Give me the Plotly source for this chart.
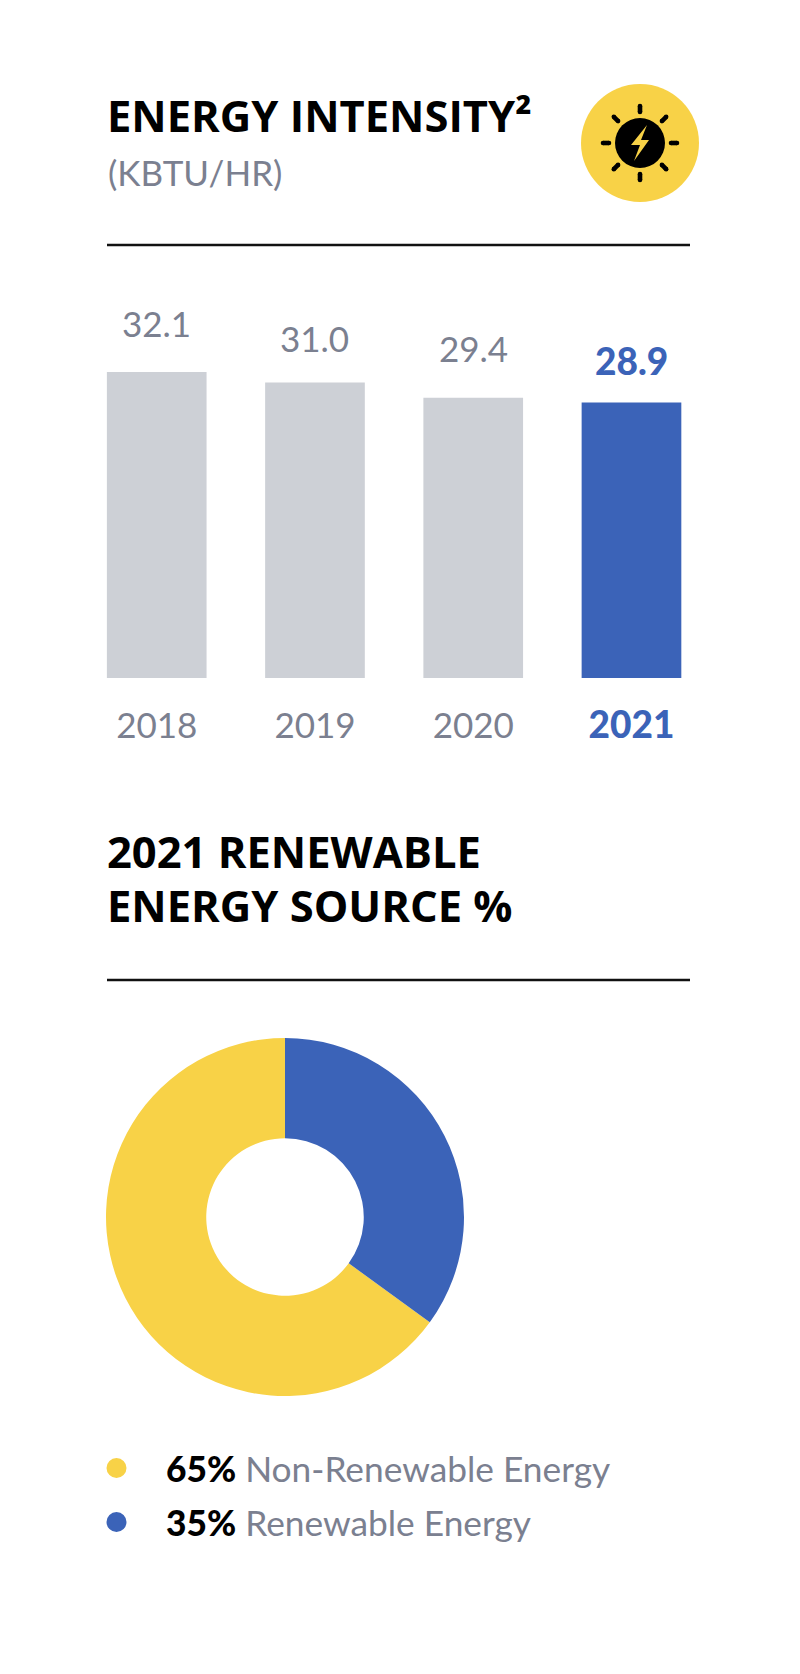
import math

import plotly.graph_objects as go

W, H = 800, 1674

YEARS = ["2018", "2019", "2020", "2021"]
INTENSITY = [32.1, 31.0, 29.4, 28.9]
SOURCE_LABELS = ["Non-Renewable Energy", "Renewable Energy"]
SOURCE_SHARE = [65, 35]

YELLOW = "#F8D247"
BLUE = "#3B63B8"
BAR_GREY = "#CDD0D6"
TEXT_GREY = "#7B8090"
BLACK = "#000000"
FONT = "Lato"
HEAD_FONT = "Open Sans"


def px(x):
    return x / W


def py(y):
    return 1 - y / H


def label(x, y, text, size, color=BLACK, weight=400, family=FONT):
    return dict(
        x=px(x), y=py(y), xref="paper", yref="paper", text=text, showarrow=False,
        xanchor="left", yanchor="middle", align="left",
        font=dict(family=family, size=size, color=color, weight=weight),
    )


def rule(y):
    return dict(type="line", xref="paper", yref="paper", x0=px(107), x1=px(690), y0=py(y), y1=py(y),
                line=dict(color="#111111", width=2.6))


def circle(cx, cy, r, color):
    return dict(type="circle", xref="paper", yref="paper", x0=px(cx - r), x1=px(cx + r), y0=py(cy - r), y1=py(cy + r),
                fillcolor=color, line=dict(width=0), layer="above")


def polygon(points, color):
    d = "M " + " L ".join(f"{px(x):.5f},{py(y):.5f}" for x, y in points) + " Z"
    return dict(type="path", xref="paper", yref="paper", path=d, fillcolor=color, line=dict(width=0), layer="above")


fig = go.Figure()

# bar chart, about 9.5 px per unit
bar_colors = [BAR_GREY, BAR_GREY, BAR_GREY, BLUE]
fig.add_trace(go.Bar(x=YEARS, y=INTENSITY, marker=dict(color=bar_colors, line=dict(width=0)), width=0.63,
                     hoverinfo="skip", xaxis="x", yaxis="y"))

# donut, rotated so the blue slice starts at 12 o'clock
fig.add_trace(go.Pie(labels=SOURCE_LABELS, values=SOURCE_SHARE, hole=0.44, sort=False, direction="clockwise",
                     rotation=SOURCE_SHARE[1] * 3.6, marker=dict(colors=[YELLOW, BLUE], line=dict(width=0)),
                     textinfo="none", domain=dict(x=[px(106), px(464)], y=[py(1396), py(1038)])))

annotations = [
    label(105, 115, "ENERGY INTENSITY²", 43.5, weight=700, family=HEAD_FONT),
    label(106, 172, "(KBTU/HR)", 35, TEXT_GREY),
    label(105, 851, "2021 RENEWABLE", 43.5, weight=700, family=HEAD_FONT),
    label(105, 905, "ENERGY SOURCE %", 43.5, weight=700, family=HEAD_FONT),
]
label_gaps = [26, 22, 27, 18]
for i, value in enumerate(INTENSITY):
    last = i == len(YEARS) - 1
    annotations.append(dict(
        x=i, y=value, xref="x", yref="y", text=f"{value:.1f}", showarrow=False,
        yanchor="bottom", yshift=label_gaps[i],
        font=dict(family=FONT, size=37 if last else 35, color=BLUE if last else TEXT_GREY, weight=900 if last else 400),
    ))

for y, share, name in zip([1468, 1522], SOURCE_SHARE, SOURCE_LABELS):
    annotations.append(label(164, y, f"<span style='color:{BLACK};font-weight:900'>{share}%</span> {name}", 35.3, TEXT_GREY))

shapes = [rule(245), rule(980), circle(116.5, 1468, 10, YELLOW), circle(116.5, 1522, 10, BLUE)]

# sun icon in the top corner
cx, cy = 640, 143
shapes += [circle(cx, cy, 59, YELLOW), circle(cx, cy, 25, BLACK)]
for k in range(8):
    a = k * math.pi / 4
    ux, uy = math.cos(a), math.sin(a)
    x0, y0 = cx + 31 * ux, cy + 31 * uy
    x1, y1 = cx + 37 * ux, cy + 37 * uy
    shapes.append(dict(type="line", xref="paper", yref="paper", x0=px(x0), y0=py(y0), x1=px(x1), y1=py(y1),
                       line=dict(color=BLACK, width=4.6), layer="above"))
    shapes.append(circle(x1, y1, 2.3, BLACK))
    shapes.append(circle(x0, y0, 2.3, BLACK))
bolt = [(7, -18), (-9, 2), (0, 2), (-6, 18), (9, -3), (1, -3)]
shapes.append(polygon([(cx + x, cy + y) for x, y in bolt], YELLOW))

fig.update_layout(
    width=W, height=H, margin=dict(l=0, r=0, t=0, b=0), autosize=False,
    paper_bgcolor="white", plot_bgcolor="white", showlegend=False, bargap=0.37,
    annotations=annotations, shapes=shapes,
    xaxis=dict(
        domain=[px(77.6), px(710.6)], type="category", categoryorder="array", categoryarray=YEARS,
        range=[-0.5, 3.5], showgrid=False, zeroline=False, showline=False, ticks="outside", ticklen=17,
        tickcolor="rgba(0,0,0,0)", tickvals=YEARS,
        ticktext=YEARS[:-1] + [f"<span style='font-weight:900;color:{BLUE};font-size:37px'>{YEARS[-1]}</span>"],
        tickfont=dict(family=FONT, size=35, color=TEXT_GREY),
    ),
    yaxis=dict(domain=[py(678), py(300)], range=[0, 378 / 9.53], visible=False),
)

fig.write_html("out.html", config=dict(displayModeBar=False), post_script="document.body.style.margin='0';")
